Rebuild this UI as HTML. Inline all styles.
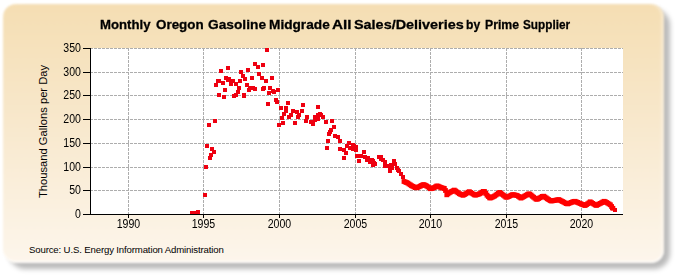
<!DOCTYPE html>
<html><head><meta charset="utf-8">
<style>
html,body{margin:0;padding:0;}
body{width:675px;height:275px;position:relative;overflow:hidden;background:#fff;font-family:"Liberation Sans",sans-serif;}
#shadow{position:absolute;left:9px;top:9px;width:661px;height:260px;border-radius:16px;background:rgba(0,0,0,0.27);filter:blur(2.8px);}
#frame{position:absolute;left:3px;top:4px;width:661px;height:259px;border-radius:13px;
background:linear-gradient(to bottom,#f5deb3 0%,#f8e8cc 45%,#fdf6ec 100%);filter:blur(0.8px);box-shadow:inset 0 -2px 1px rgba(255,255,255,0.7), inset -3px 0 2px rgba(255,255,255,0.3);}
.tw{position:absolute;top:17px;font-weight:bold;font-size:13.5px;-webkit-text-stroke:0.3px #000;transform-origin:0 0;color:#000;white-space:nowrap;}
#src{position:absolute;left:29px;top:244px;font-size:9.6px;letter-spacing:-0.14px;color:#000;white-space:nowrap;}
#ylab{position:absolute;left:0;top:0;font-size:11.2px;white-space:nowrap;transform-origin:0 0;}
.yl{position:absolute;left:40px;width:41px;text-align:right;font-size:12px;line-height:14px;color:#000;transform:scaleX(0.88);transform-origin:100% 0;}
.xl{position:absolute;top:217px;width:41px;text-align:center;font-size:12px;line-height:14px;color:#000;transform:scaleX(0.88);}
svg{position:absolute;left:0;top:0;}
</style></head><body>
<div id="shadow"></div><div id="frame"></div>
<div class="tw" style="left:99.9px;transform:scaleX(0.976)">Monthly</div><div class="tw" style="left:156.4px;transform:scaleX(0.993)">Oregon</div><div class="tw" style="left:207.8px;transform:scaleX(1.018)">Gasoline</div><div class="tw" style="left:269.0px;transform:scaleX(1.012)">Midgrade</div><div class="tw" style="left:332.2px;transform:scaleX(1.133)">All</div><div class="tw" style="left:354.0px;transform:scaleX(1.067)">Sales/Deliveries</div><div class="tw" style="left:466.4px;transform:scaleX(0.900)">by</div><div class="tw" style="left:484.6px;transform:scaleX(0.908)">Prime</div><div class="tw" style="left:523.0px;transform:scaleX(0.872)">Supplier</div>
<svg width="675" height="275" viewBox="0 0 675 275">
<rect x="91" y="48" width="532" height="167" fill="#fff"/>
<g stroke="#adadad" stroke-width="1" stroke-dasharray="3,1" shape-rendering="crispEdges"><line x1="90" y1="48.5" x2="623" y2="48.5"/><line x1="90" y1="72.5" x2="623" y2="72.5"/><line x1="90" y1="95.5" x2="623" y2="95.5"/><line x1="90" y1="119.5" x2="623" y2="119.5"/><line x1="90" y1="143.5" x2="623" y2="143.5"/><line x1="90" y1="167.5" x2="623" y2="167.5"/><line x1="90" y1="190.5" x2="623" y2="190.5"/><line x1="128.5" y1="48" x2="128.5" y2="214"/><line x1="203.5" y1="48" x2="203.5" y2="214"/><line x1="279.5" y1="48" x2="279.5" y2="214"/><line x1="355.5" y1="48" x2="355.5" y2="214"/><line x1="430.5" y1="48" x2="430.5" y2="214"/><line x1="506.5" y1="48" x2="506.5" y2="214"/><line x1="581.5" y1="48" x2="581.5" y2="214"/></g>
<g fill="#ee0010" shape-rendering="crispEdges"><rect x="190.0" y="211.0" width="4" height="4"/><rect x="191.5" y="211.0" width="4" height="4"/><rect x="193.0" y="211.0" width="4" height="4"/><rect x="194.5" y="210.5" width="4" height="4"/><rect x="196.0" y="210.0" width="4" height="4"/><rect x="203.0" y="193.0" width="4" height="4"/><rect x="203.9" y="165.2" width="4" height="4"/><rect x="207.6" y="155.9" width="4" height="4"/><rect x="208.7" y="152.8" width="4" height="4"/><rect x="212.3" y="149.9" width="4" height="4"/><rect x="210.2" y="146.6" width="4" height="4"/><rect x="205.1" y="143.6" width="4" height="4"/><rect x="206.8" y="122.9" width="4" height="4"/><rect x="212.9" y="118.7" width="4" height="4"/><rect x="218.9" y="68.7" width="4" height="4"/><rect x="225.9" y="65.5" width="4" height="4"/><rect x="239.0" y="69.6" width="4" height="4"/><rect x="245.7" y="67.7" width="4" height="4"/><rect x="252.8" y="61.7" width="4" height="4"/><rect x="256.1" y="64.7" width="4" height="4"/><rect x="260.6" y="62.9" width="4" height="4"/><rect x="256.9" y="71.9" width="4" height="4"/><rect x="259.8" y="75.9" width="4" height="4"/><rect x="264.0" y="78.9" width="4" height="4"/><rect x="270.0" y="75.9" width="4" height="4"/><rect x="249.9" y="75.9" width="4" height="4"/><rect x="242.7" y="76.6" width="4" height="4"/><rect x="241.2" y="74.4" width="4" height="4"/><rect x="238.2" y="78.9" width="4" height="4"/><rect x="233.8" y="81.8" width="4" height="4"/><rect x="229.3" y="80.4" width="4" height="4"/><rect x="227.0" y="76.6" width="4" height="4"/><rect x="224.1" y="75.9" width="4" height="4"/><rect x="217.4" y="78.9" width="4" height="4"/><rect x="221.1" y="81.1" width="4" height="4"/><rect x="214.4" y="83.3" width="4" height="4"/><rect x="222.6" y="87.8" width="4" height="4"/><rect x="216.6" y="93.0" width="4" height="4"/><rect x="221.8" y="95.3" width="4" height="4"/><rect x="232.3" y="93.8" width="4" height="4"/><rect x="236.0" y="90.0" width="4" height="4"/><rect x="236.7" y="86.3" width="4" height="4"/><rect x="242.0" y="93.8" width="4" height="4"/><rect x="244.9" y="82.6" width="4" height="4"/><rect x="247.2" y="87.8" width="4" height="4"/><rect x="250.9" y="85.6" width="4" height="4"/><rect x="262.1" y="85.6" width="4" height="4"/><rect x="268.0" y="85.6" width="4" height="4"/><rect x="266.6" y="90.8" width="4" height="4"/><rect x="271.8" y="90.0" width="4" height="4"/><rect x="275.5" y="87.8" width="4" height="4"/><rect x="274.0" y="97.5" width="4" height="4"/><rect x="264.8" y="47.9" width="4" height="4"/><rect x="265.8" y="101.9" width="4" height="4"/><rect x="275.2" y="99.7" width="4" height="4"/><rect x="285.6" y="100.7" width="4" height="4"/><rect x="278.9" y="106.0" width="4" height="4"/><rect x="283.7" y="105.7" width="4" height="4"/><rect x="284.4" y="109.4" width="4" height="4"/><rect x="290.7" y="108.6" width="4" height="4"/><rect x="294.6" y="110.1" width="4" height="4"/><rect x="282.2" y="112.4" width="4" height="4"/><rect x="279.7" y="115.7" width="4" height="4"/><rect x="287.4" y="115.0" width="4" height="4"/><rect x="295.6" y="115.4" width="4" height="4"/><rect x="280.7" y="120.6" width="4" height="4"/><rect x="277.0" y="122.8" width="4" height="4"/><rect x="293.4" y="121.3" width="4" height="4"/><rect x="300.6" y="102.8" width="4" height="4"/><rect x="315.9" y="104.7" width="4" height="4"/><rect x="299.8" y="108.8" width="4" height="4"/><rect x="316.2" y="112.5" width="4" height="4"/><rect x="319.2" y="112.5" width="4" height="4"/><rect x="313.2" y="114.9" width="4" height="4"/><rect x="317.7" y="111.9" width="4" height="4"/><rect x="320.7" y="114.9" width="4" height="4"/><rect x="305.0" y="114.9" width="4" height="4"/><rect x="303.6" y="118.6" width="4" height="4"/><rect x="308.8" y="120.1" width="4" height="4"/><rect x="311.0" y="121.6" width="4" height="4"/><rect x="313.2" y="117.9" width="4" height="4"/><rect x="316.2" y="117.2" width="4" height="4"/><rect x="323.7" y="120.1" width="4" height="4"/><rect x="329.6" y="119.4" width="4" height="4"/><rect x="331.9" y="124.6" width="4" height="4"/><rect x="328.9" y="128.3" width="4" height="4"/><rect x="327.4" y="132.1" width="4" height="4"/><rect x="332.6" y="134.3" width="4" height="4"/><rect x="335.6" y="135.0" width="4" height="4"/><rect x="337.8" y="138.8" width="4" height="4"/><rect x="325.9" y="138.8" width="4" height="4"/><rect x="346.8" y="141.0" width="4" height="4"/><rect x="350.5" y="143.2" width="4" height="4"/><rect x="328.2" y="129.5" width="4" height="4"/><rect x="324.8" y="145.9" width="4" height="4"/><rect x="345.4" y="144.4" width="4" height="4"/><rect x="348.3" y="145.9" width="4" height="4"/><rect x="352.1" y="144.4" width="4" height="4"/><rect x="354.3" y="145.1" width="4" height="4"/><rect x="337.9" y="146.6" width="4" height="4"/><rect x="342.4" y="148.1" width="4" height="4"/><rect x="343.9" y="151.1" width="4" height="4"/><rect x="342.4" y="155.6" width="4" height="4"/><rect x="361.7" y="150.1" width="4" height="4"/><rect x="355.0" y="154.1" width="4" height="4"/><rect x="358.8" y="154.1" width="4" height="4"/><rect x="357.0" y="159.3" width="4" height="4"/><rect x="363.2" y="154.8" width="4" height="4"/><rect x="366.2" y="155.6" width="4" height="4"/><rect x="367.7" y="157.8" width="4" height="4"/><rect x="370.7" y="159.3" width="4" height="4"/><rect x="372.9" y="162.3" width="4" height="4"/><rect x="376.6" y="154.8" width="4" height="4"/><rect x="378.9" y="157.1" width="4" height="4"/><rect x="382.6" y="160.0" width="4" height="4"/><rect x="382.6" y="163.8" width="4" height="4"/><rect x="387.8" y="166.0" width="4" height="4"/><rect x="391.6" y="159.3" width="4" height="4"/><rect x="396.0" y="167.5" width="4" height="4"/><rect x="226.2" y="78.0" width="4" height="4"/><rect x="231.2" y="78.5" width="4" height="4"/><rect x="228.9" y="81.6" width="4" height="4"/><rect x="215.7" y="79.4" width="4" height="4"/><rect x="247.5" y="85.7" width="4" height="4"/><rect x="252.5" y="86.6" width="4" height="4"/><rect x="233.9" y="92.5" width="4" height="4"/><rect x="242.1" y="92.5" width="4" height="4"/><rect x="261.2" y="86.5" width="4" height="4"/><rect x="270.7" y="88.5" width="4" height="4"/><rect x="289.4" y="112.7" width="4" height="4"/><rect x="296.8" y="112.7" width="4" height="4"/><rect x="379.0" y="155.0" width="4" height="4"/><rect x="381.0" y="157.5" width="4" height="4"/><rect x="385.5" y="163.5" width="4" height="4"/><rect x="389.0" y="163.0" width="4" height="4"/><rect x="393.0" y="162.0" width="4" height="4"/><rect x="395.0" y="165.5" width="4" height="4"/><rect x="397.0" y="169.0" width="4" height="4"/><rect x="399.0" y="171.5" width="4" height="4"/><rect x="401.0" y="174.5" width="4" height="4"/><rect x="387.5" y="168.5" width="4" height="4"/><rect x="389.5" y="165.5" width="4" height="4"/><rect x="365.0" y="158.0" width="4" height="4"/><rect x="368.0" y="160.0" width="4" height="4"/><rect x="371.0" y="162.5" width="4" height="4"/><rect x="612.5" y="208.0" width="4" height="4"/><rect x="610.0" y="205.5" width="4" height="4"/><rect x="351.0" y="147.0" width="4" height="4"/><rect x="354.0" y="147.5" width="4" height="4"/><rect x="370.0" y="158.0" width="4" height="4"/><rect x="372.0" y="160.5" width="4" height="4"/></g><g fill="#f00"><rect x="401.6" y="179.1" width="4.8" height="4.8"/><rect x="402.9" y="179.6" width="4.8" height="4.8"/><rect x="404.1" y="180.1" width="4.8" height="4.8"/><rect x="405.4" y="180.7" width="4.8" height="4.8"/><rect x="406.6" y="181.6" width="4.8" height="4.8"/><rect x="407.9" y="182.4" width="4.8" height="4.8"/><rect x="409.1" y="183.3" width="4.8" height="4.8"/><rect x="410.4" y="183.9" width="4.8" height="4.8"/><rect x="411.7" y="184.5" width="4.8" height="4.8"/><rect x="412.9" y="185.2" width="4.8" height="4.8"/><rect x="414.2" y="185.4" width="4.8" height="4.8"/><rect x="415.4" y="184.9" width="4.8" height="4.8"/><rect x="416.7" y="184.3" width="4.8" height="4.8"/><rect x="418.0" y="183.7" width="4.8" height="4.8"/><rect x="419.2" y="183.0" width="4.8" height="4.8"/><rect x="420.5" y="182.3" width="4.8" height="4.8"/><rect x="421.7" y="182.3" width="4.8" height="4.8"/><rect x="423.0" y="182.9" width="4.8" height="4.8"/><rect x="424.2" y="183.6" width="4.8" height="4.8"/><rect x="425.5" y="184.4" width="4.8" height="4.8"/><rect x="426.8" y="185.3" width="4.8" height="4.8"/><rect x="428.0" y="186.3" width="4.8" height="4.8"/><rect x="429.3" y="186.1" width="4.8" height="4.8"/><rect x="430.5" y="185.7" width="4.8" height="4.8"/><rect x="431.8" y="185.2" width="4.8" height="4.8"/><rect x="433.1" y="184.4" width="4.8" height="4.8"/><rect x="434.3" y="183.6" width="4.8" height="4.8"/><rect x="435.6" y="183.7" width="4.8" height="4.8"/><rect x="436.8" y="184.3" width="4.8" height="4.8"/><rect x="438.1" y="184.9" width="4.8" height="4.8"/><rect x="439.3" y="185.4" width="4.8" height="4.8"/><rect x="440.6" y="185.7" width="4.8" height="4.8"/><rect x="441.9" y="186.0" width="4.8" height="4.8"/><rect x="443.1" y="188.1" width="4.8" height="4.8"/><rect x="444.4" y="192.4" width="4.8" height="4.8"/><rect x="445.6" y="191.4" width="4.8" height="4.8"/><rect x="446.9" y="190.4" width="4.8" height="4.8"/><rect x="448.2" y="189.6" width="4.8" height="4.8"/><rect x="449.4" y="189.0" width="4.8" height="4.8"/><rect x="450.7" y="188.3" width="4.8" height="4.8"/><rect x="451.9" y="187.7" width="4.8" height="4.8"/><rect x="453.2" y="188.6" width="4.8" height="4.8"/><rect x="454.4" y="189.5" width="4.8" height="4.8"/><rect x="455.7" y="190.4" width="4.8" height="4.8"/><rect x="457.0" y="191.3" width="4.8" height="4.8"/><rect x="458.2" y="191.9" width="4.8" height="4.8"/><rect x="459.5" y="192.4" width="4.8" height="4.8"/><rect x="460.7" y="192.9" width="4.8" height="4.8"/><rect x="462.0" y="192.2" width="4.8" height="4.8"/><rect x="463.3" y="191.4" width="4.8" height="4.8"/><rect x="464.5" y="190.6" width="4.8" height="4.8"/><rect x="465.8" y="189.8" width="4.8" height="4.8"/><rect x="467.0" y="189.3" width="4.8" height="4.8"/><rect x="468.3" y="190.1" width="4.8" height="4.8"/><rect x="469.5" y="190.9" width="4.8" height="4.8"/><rect x="470.8" y="191.7" width="4.8" height="4.8"/><rect x="472.1" y="192.5" width="4.8" height="4.8"/><rect x="473.3" y="192.7" width="4.8" height="4.8"/><rect x="474.6" y="192.3" width="4.8" height="4.8"/><rect x="475.8" y="191.9" width="4.8" height="4.8"/><rect x="477.1" y="191.4" width="4.8" height="4.8"/><rect x="478.4" y="190.7" width="4.8" height="4.8"/><rect x="479.6" y="189.8" width="4.8" height="4.8"/><rect x="480.9" y="189.0" width="4.8" height="4.8"/><rect x="482.1" y="189.1" width="4.8" height="4.8"/><rect x="483.4" y="191.0" width="4.8" height="4.8"/><rect x="484.6" y="192.8" width="4.8" height="4.8"/><rect x="485.9" y="194.1" width="4.8" height="4.8"/><rect x="487.2" y="195.5" width="4.8" height="4.8"/><rect x="488.4" y="195.5" width="4.8" height="4.8"/><rect x="489.7" y="194.9" width="4.8" height="4.8"/><rect x="490.9" y="194.3" width="4.8" height="4.8"/><rect x="492.2" y="193.6" width="4.8" height="4.8"/><rect x="493.5" y="192.7" width="4.8" height="4.8"/><rect x="494.7" y="191.8" width="4.8" height="4.8"/><rect x="496.0" y="190.9" width="4.8" height="4.8"/><rect x="497.2" y="190.0" width="4.8" height="4.8"/><rect x="498.5" y="190.9" width="4.8" height="4.8"/><rect x="499.7" y="191.9" width="4.8" height="4.8"/><rect x="501.0" y="192.8" width="4.8" height="4.8"/><rect x="502.3" y="193.8" width="4.8" height="4.8"/><rect x="503.5" y="194.8" width="4.8" height="4.8"/><rect x="504.8" y="194.8" width="4.8" height="4.8"/><rect x="506.0" y="194.2" width="4.8" height="4.8"/><rect x="507.3" y="193.6" width="4.8" height="4.8"/><rect x="508.6" y="192.9" width="4.8" height="4.8"/><rect x="509.8" y="192.3" width="4.8" height="4.8"/><rect x="511.1" y="192.4" width="4.8" height="4.8"/><rect x="512.3" y="192.6" width="4.8" height="4.8"/><rect x="513.6" y="192.8" width="4.8" height="4.8"/><rect x="514.8" y="193.1" width="4.8" height="4.8"/><rect x="516.1" y="194.0" width="4.8" height="4.8"/><rect x="517.4" y="194.9" width="4.8" height="4.8"/><rect x="518.6" y="195.7" width="4.8" height="4.8"/><rect x="519.9" y="195.0" width="4.8" height="4.8"/><rect x="521.1" y="194.3" width="4.8" height="4.8"/><rect x="522.4" y="193.6" width="4.8" height="4.8"/><rect x="523.7" y="192.9" width="4.8" height="4.8"/><rect x="524.9" y="192.2" width="4.8" height="4.8"/><rect x="526.2" y="191.5" width="4.8" height="4.8"/><rect x="527.4" y="191.7" width="4.8" height="4.8"/><rect x="528.7" y="192.7" width="4.8" height="4.8"/><rect x="529.9" y="193.8" width="4.8" height="4.8"/><rect x="531.2" y="194.8" width="4.8" height="4.8"/><rect x="532.5" y="195.8" width="4.8" height="4.8"/><rect x="533.7" y="196.8" width="4.8" height="4.8"/><rect x="535.0" y="196.8" width="4.8" height="4.8"/><rect x="536.2" y="196.1" width="4.8" height="4.8"/><rect x="537.5" y="195.4" width="4.8" height="4.8"/><rect x="538.8" y="194.7" width="4.8" height="4.8"/><rect x="540.0" y="194.0" width="4.8" height="4.8"/><rect x="541.3" y="193.8" width="4.8" height="4.8"/><rect x="542.5" y="194.6" width="4.8" height="4.8"/><rect x="543.8" y="195.5" width="4.8" height="4.8"/><rect x="545.0" y="196.4" width="4.8" height="4.8"/><rect x="546.3" y="197.2" width="4.8" height="4.8"/><rect x="547.6" y="198.1" width="4.8" height="4.8"/><rect x="548.8" y="198.6" width="4.8" height="4.8"/><rect x="550.1" y="198.4" width="4.8" height="4.8"/><rect x="551.3" y="198.2" width="4.8" height="4.8"/><rect x="552.6" y="197.9" width="4.8" height="4.8"/><rect x="553.9" y="197.7" width="4.8" height="4.8"/><rect x="555.1" y="197.5" width="4.8" height="4.8"/><rect x="556.4" y="197.2" width="4.8" height="4.8"/><rect x="557.6" y="197.8" width="4.8" height="4.8"/><rect x="558.9" y="198.5" width="4.8" height="4.8"/><rect x="560.1" y="199.1" width="4.8" height="4.8"/><rect x="561.4" y="199.8" width="4.8" height="4.8"/><rect x="562.7" y="200.5" width="4.8" height="4.8"/><rect x="563.9" y="201.2" width="4.8" height="4.8"/><rect x="565.2" y="201.5" width="4.8" height="4.8"/><rect x="566.4" y="201.0" width="4.8" height="4.8"/><rect x="567.7" y="200.5" width="4.8" height="4.8"/><rect x="569.0" y="200.0" width="4.8" height="4.8"/><rect x="570.2" y="199.5" width="4.8" height="4.8"/><rect x="571.5" y="199.0" width="4.8" height="4.8"/><rect x="572.7" y="198.9" width="4.8" height="4.8"/><rect x="574.0" y="199.5" width="4.8" height="4.8"/><rect x="575.2" y="200.0" width="4.8" height="4.8"/><rect x="576.5" y="200.6" width="4.8" height="4.8"/><rect x="577.8" y="201.1" width="4.8" height="4.8"/><rect x="579.0" y="201.7" width="4.8" height="4.8"/><rect x="580.3" y="202.2" width="4.8" height="4.8"/><rect x="581.5" y="202.7" width="4.8" height="4.8"/><rect x="582.8" y="203.1" width="4.8" height="4.8"/><rect x="584.1" y="202.2" width="4.8" height="4.8"/><rect x="585.3" y="201.3" width="4.8" height="4.8"/><rect x="586.6" y="200.4" width="4.8" height="4.8"/><rect x="587.8" y="199.4" width="4.8" height="4.8"/><rect x="589.1" y="200.2" width="4.8" height="4.8"/><rect x="590.3" y="201.0" width="4.8" height="4.8"/><rect x="591.6" y="201.8" width="4.8" height="4.8"/><rect x="592.9" y="202.6" width="4.8" height="4.8"/><rect x="594.1" y="203.0" width="4.8" height="4.8"/><rect x="595.4" y="202.3" width="4.8" height="4.8"/><rect x="596.6" y="201.6" width="4.8" height="4.8"/><rect x="597.9" y="201.0" width="4.8" height="4.8"/><rect x="599.2" y="200.3" width="4.8" height="4.8"/><rect x="600.4" y="199.6" width="4.8" height="4.8"/><rect x="601.7" y="198.9" width="4.8" height="4.8"/><rect x="602.9" y="199.3" width="4.8" height="4.8"/><rect x="604.2" y="200.1" width="4.8" height="4.8"/><rect x="605.4" y="200.8" width="4.8" height="4.8"/><rect x="606.7" y="201.6" width="4.8" height="4.8"/><rect x="608.0" y="202.4" width="4.8" height="4.8"/><rect x="609.2" y="204.1" width="4.8" height="4.8"/><rect x="610.5" y="205.9" width="4.8" height="4.8"/></g>
<g stroke="#000" stroke-width="1" shape-rendering="crispEdges"><line x1="83" y1="48.5" x2="91" y2="48.5"/><line x1="83" y1="72.5" x2="91" y2="72.5"/><line x1="83" y1="95.5" x2="91" y2="95.5"/><line x1="83" y1="119.5" x2="91" y2="119.5"/><line x1="83" y1="143.5" x2="91" y2="143.5"/><line x1="83" y1="167.5" x2="91" y2="167.5"/><line x1="83" y1="190.5" x2="91" y2="190.5"/><line x1="83" y1="214.5" x2="91" y2="214.5"/><line x1="128.5" y1="214" x2="128.5" y2="218"/><line x1="203.5" y1="214" x2="203.5" y2="218"/><line x1="279.5" y1="214" x2="279.5" y2="218"/><line x1="355.5" y1="214" x2="355.5" y2="218"/><line x1="430.5" y1="214" x2="430.5" y2="218"/><line x1="506.5" y1="214" x2="506.5" y2="218"/><line x1="581.5" y1="214" x2="581.5" y2="218"/>
<line x1="90.5" y1="48" x2="90.5" y2="215"/><line x1="90" y1="214.5" x2="623" y2="214.5"/></g>
</svg>
<div class="yl" style="top:41px">350</div><div class="yl" style="top:65px">300</div><div class="yl" style="top:88px">250</div><div class="yl" style="top:112px">200</div><div class="yl" style="top:136px">150</div><div class="yl" style="top:160px">100</div><div class="yl" style="top:183px">50</div><div class="yl" style="top:207px">0</div>
<div class="xl" style="left:108px">1990</div><div class="xl" style="left:183px">1995</div><div class="xl" style="left:259px">2000</div><div class="xl" style="left:335px">2005</div><div class="xl" style="left:410px">2010</div><div class="xl" style="left:486px">2015</div><div class="xl" style="left:561px">2020</div>
<div id="ylab" style="transform:translate(37px,198px) rotate(-90deg)">Thousand Gallons per Day</div>
<div id="src">Source: U.S. Energy Information Administration</div>
</body></html>
